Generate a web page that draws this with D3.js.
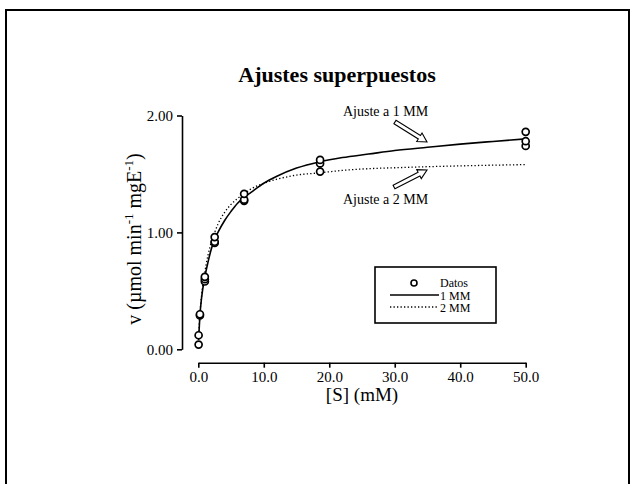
<!DOCTYPE html>
<html>
<head>
<meta charset="utf-8">
<script src="https://cdn.jsdelivr.net/npm/d3@7"></script>
<style>
body { margin: 0; background: #fff; }
text { font-family: "Liberation Serif", "Times New Roman", serif; fill: #000; }
</style>
</head>
<body>
<div id="chart"></div>
<script>
// measured substrate concentrations and rates (3 replicates each)
var sConc = [0.05, 0.05, 0.25, 0.25, 1.0, 1.0, 1.0, 2.5, 2.5, 2.5, 7.0, 7.0, 7.0, 18.6, 18.6, 18.6, 50, 50, 50];
var vRate = [0.04, 0.12, 0.29, 0.30, 0.58, 0.60, 0.62, 0.91, 0.92, 0.96, 1.27, 1.28, 1.33, 1.52, 1.59, 1.62, 1.74, 1.78, 1.86];

// fitted curves
var fitS   = [0.05, 0.25, 0.5, 1, 1.5, 2, 2.5, 3, 4, 5, 6, 7, 8, 10, 12, 15, 18.6, 22, 26, 30, 35, 40, 45, 50];
var fit1MM = [0.08, 0.29, 0.44, 0.62, 0.75, 0.86, 0.94, 1.00, 1.10, 1.18, 1.25, 1.30, 1.34, 1.42, 1.48, 1.55, 1.605, 1.64, 1.67, 1.70, 1.728, 1.755, 1.778, 1.80];
var fit2MM = [0.09, 0.30, 0.46, 0.66, 0.81, 0.92, 1.00, 1.07, 1.17, 1.24, 1.29, 1.33, 1.37, 1.42, 1.455, 1.49, 1.51, 1.53, 1.545, 1.553, 1.562, 1.569, 1.575, 1.58];

var xTicks = [0, 10, 20, 30, 40, 50];
var yTicks = [0, 1, 2];
var legendLabels = ["Datos", "1 MM", "2 MM"];

var W = 634, H = 484;

var svg = d3.select("#chart").append("svg")
    .attr("width", W)
    .attr("height", H);

// outer frame (bottom edge falls outside the picture)
svg.append("rect")
    .attr("x", 6).attr("y", 10)
    .attr("width", 623).attr("height", 490)
    .attr("fill", "none")
    .attr("stroke", "#000")
    .attr("stroke-width", 2);

var x = d3.scaleLinear().domain([0, 50]).range([198.3, 525.7]);
var y = d3.scaleLinear().domain([0, 2]).range([349.3, 115.5]);

// title
svg.append("text")
    .attr("x", 337).attr("y", 82)
    .attr("text-anchor", "middle")
    .style("font-size", "22px")
    .style("font-weight", "bold")
    .text("Ajustes superpuestos");

// axes
var xAxis = svg.append("g")
    .attr("transform", "translate(0,362.7)")
    .call(d3.axisBottom(x).tickValues(xTicks).tickFormat(d3.format(".1f")).tickSize(5).tickSizeOuter(0));
var yAxis = svg.append("g")
    .attr("transform", "translate(182,0)")
    .call(d3.axisLeft(y).tickValues(yTicks).tickFormat(d3.format(".2f")).tickSize(5).tickSizeOuter(0));

[xAxis, yAxis].forEach(function(g) {
    g.select(".domain").attr("stroke-width", 1.6);
    g.selectAll(".tick line").attr("stroke-width", 1.6);
    g.selectAll(".tick text")
        .style("font-family", "Liberation Serif, serif")
        .style("font-size", "15px")
        .attr("fill", "#000");
});
xAxis.selectAll(".tick text").attr("y", 9);
yAxis.selectAll(".tick text").attr("x", -9);

// axis titles
svg.append("text")
    .attr("x", 362).attr("y", 401)
    .attr("text-anchor", "middle")
    .style("font-size", "19px")
    .text("[S] (mM)");

var yl = svg.append("text")
    .attr("transform", "translate(141,239) rotate(-90)")
    .attr("text-anchor", "middle")
    .style("font-size", "20px");
yl.append("tspan").text("v (\u00b5mol min");
yl.append("tspan").attr("dy", -8).style("font-size", "13px").text("-1");
yl.append("tspan").attr("dy", 8).text(" mgE");
yl.append("tspan").attr("dy", -8).style("font-size", "13px").text("-1");
yl.append("tspan").attr("dy", 8).text(")");

// fitted curves
var line1 = d3.line()
    .x(function(d, i) { return x(fitS[i]); })
    .y(function(d) { return y(d); })
    .curve(d3.curveMonotoneX);

svg.append("path")
    .datum(fit2MM)
    .attr("d", line1)
    .attr("fill", "none")
    .attr("stroke", "#000")
    .attr("stroke-width", 1.3)
    .attr("stroke-dasharray", "1.3,2.2");

svg.append("path")
    .datum(fit1MM)
    .attr("d", line1)
    .attr("fill", "none")
    .attr("stroke", "#000")
    .attr("stroke-width", 1.6);

// data points
svg.append("g").selectAll("circle")
    .data(vRate)
    .enter().append("circle")
    .attr("cx", function(d, i) { return x(sConc[i]); })
    .attr("cy", function(d) { return y(d); })
    .attr("r", 3.5)
    .attr("fill", "#fff")
    .attr("stroke", "#000")
    .attr("stroke-width", 1.7);

// hollow block arrows with annotations
function blockArrow(x0, y0, x1, y1) {
    var dx = x1 - x0, dy = y1 - y0, len = Math.sqrt(dx * dx + dy * dy);
    var ux = dx / len, uy = dy / len, px = -uy, py = ux;
    var hw = 2, hh = 5, hl = 9;
    var bx = x1 - ux * hl, by = y1 - uy * hl;
    var pts = [
        [x0 + px * hw, y0 + py * hw],
        [bx + px * hw, by + py * hw],
        [bx + px * hh, by + py * hh],
        [x1, y1],
        [bx - px * hh, by - py * hh],
        [bx - px * hw, by - py * hw],
        [x0 - px * hw, y0 - py * hw]
    ];
    svg.append("polygon")
        .attr("points", pts.map(function(p) { return p.join(","); }).join(" "))
        .attr("fill", "#fff")
        .attr("stroke", "#000")
        .attr("stroke-width", 1.1);
}
blockArrow(395, 122, 427, 142);
blockArrow(394, 187, 427, 170);

svg.append("text")
    .attr("x", 343).attr("y", 116)
    .style("font-size", "14px")
    .text("Ajuste a 1 MM");
svg.append("text")
    .attr("x", 343).attr("y", 204)
    .style("font-size", "14px")
    .text("Ajuste a 2 MM");

// legend
var lg = svg.append("g");
lg.append("rect")
    .attr("x", 375).attr("y", 267)
    .attr("width", 121).attr("height", 56)
    .attr("fill", "#fff")
    .attr("stroke", "#000")
    .attr("stroke-width", 1.6);
lg.append("circle")
    .attr("cx", 414).attr("cy", 283)
    .attr("r", 3)
    .attr("fill", "#fff")
    .attr("stroke", "#000")
    .attr("stroke-width", 1.6);
lg.append("line")
    .attr("x1", 390).attr("x2", 439).attr("y1", 295).attr("y2", 295)
    .attr("stroke", "#000").attr("stroke-width", 1.5);
lg.append("line")
    .attr("x1", 390).attr("x2", 439).attr("y1", 307).attr("y2", 307)
    .attr("stroke", "#000").attr("stroke-width", 1.3)
    .attr("stroke-dasharray", "1.3,2.2");
lg.selectAll("text.lab")
    .data(legendLabels)
    .enter().append("text")
    .attr("class", "lab")
    .attr("x", 440)
    .attr("y", function(d, i) { return 287 + i * 12.5; })
    .style("font-size", "12px")
    .text(function(d) { return d; });
</script>
</body>
</html>
